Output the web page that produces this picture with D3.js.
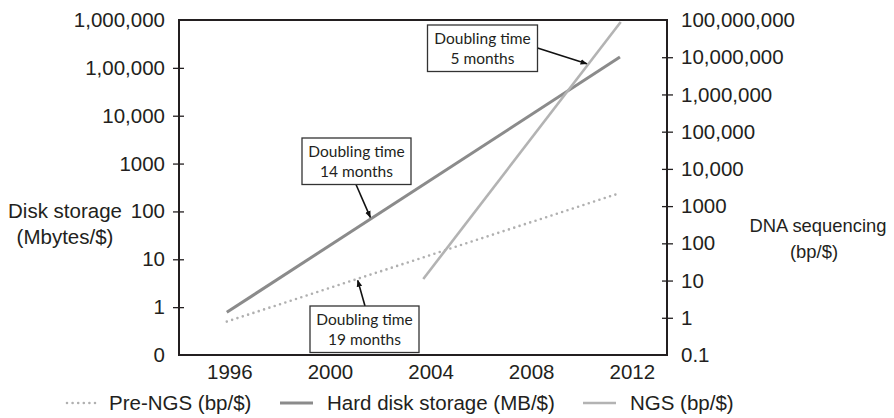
<!DOCTYPE html>
<html>
<head>
<meta charset="utf-8">
<script src="https://cdn.jsdelivr.net/npm/d3@7"></script>
<style>
  html, body { margin: 0; padding: 0; background: #fff; }
  svg { display: block; }
  text { font-family: "Liberation Sans", Arial, Helvetica, sans-serif; fill: #231f20; }
  .ann text { font-family: Lato, "Open Sans", sans-serif; }
</style>
</head>
<body>
<svg id="chart" width="894" height="418"></svg>
<script>
// ---------------- data ----------------
const xTickYears = [1996, 2000, 2004, 2008, 2012];
const leftTickValues = [0.1, 1, 10, 100, 1000, 10000, 100000, 1000000];
const leftTickLabels = ["0", "1", "10", "100", "1000", "10,000", "1,00,000", "1,000,000"];
const rightTickValues = [0.1, 1, 10, 100, 1000, 1e4, 1e5, 1e6, 1e7, 1e8];
const rightTickLabels = ["0.1", "1", "10", "100", "1000", "10,000", "100,000", "1,000,000", "10,000,000", "100,000,000"];

// Hard disk storage (MB/$) - left axis
const diskYears = [1995.9, 2011.53];
const diskValues = [0.78, 168000];
// Pre-NGS (bp/$) - right axis
const preNgsYears = [1995.9, 2011.45];
const preNgsValues = [0.79, 2150];
// NGS (bp/$) - right axis
const ngsYears = [2003.71, 2011.56];
const ngsValues = [11, 88500000];

const seriesNames = ["Pre-NGS (bp/$)", "Hard disk storage (MB/$)", "NGS (bp/$)"];
const annotationLines = [["Doubling time", "14 months"], ["Doubling time", "19 months"], ["Doubling time", "5 months"]];
const annotationTargetYears = [2001.63, 2001.09, 2010.27];

// ---------------- layout ----------------
const svg = d3.select("#chart");
const L = 179, R = 667, T = 20, B = 355;
const x = d3.scaleLinear().domain([1994, 2013.4]).range([L, R]);
const yL = d3.scaleLog().domain([0.1, 1e6]).range([B, T]);
const yR = d3.scaleLog().domain([0.1, 1e8]).range([B, T]);

const fs = "20.5px";
const diskColor = "#8b8b8b", ngsColor = "#b3b3b3", preColor = "#b0b0b0";

// series lines
const line = (ys) => d3.line().x(d => x(d[0])).y(d => ys(d[1]));
const diskData = d3.zip(diskYears, diskValues);
const preData = d3.zip(preNgsYears, preNgsValues);
const ngsData = d3.zip(ngsYears, ngsValues);

svg.append("path").datum(preData).attr("d", line(yR)).attr("fill", "none")
  .attr("stroke", preColor).attr("stroke-width", 2.6).attr("stroke-linecap", "round")
  .attr("stroke-dasharray", "0 5.6");
svg.append("path").datum(diskData).attr("d", line(yL)).attr("fill", "none")
  .attr("stroke", diskColor).attr("stroke-width", 3);
svg.append("path").datum(ngsData).attr("d", line(yR)).attr("fill", "none")
  .attr("stroke", ngsColor).attr("stroke-width", 2.6);

// frame
svg.append("rect").attr("x", L).attr("y", T).attr("width", R - L).attr("height", B - T)
  .attr("fill", "none").attr("stroke", "#231f20").attr("stroke-width", 2);

// left axis
const gL = svg.append("g").attr("transform", `translate(${L},0)`)
  .call(d3.axisLeft(yL).tickValues(leftTickValues)
    .tickFormat((d, i) => leftTickLabels[i]).tickSizeInner(6).tickSizeOuter(0).tickPadding(8));
gL.select(".domain").remove();
gL.selectAll(".tick line").attr("x1", 5).attr("stroke", "#231f20").attr("stroke-width", 1.3)
  .attr("display", (d, i) => (i === 0 || i === leftTickValues.length - 1) ? "none" : null);
gL.selectAll(".tick text").style("font-size", fs).attr("fill", "#231f20");

// right axis
const gR = svg.append("g").attr("transform", `translate(${R},0)`)
  .call(d3.axisRight(yR).tickValues(rightTickValues)
    .tickFormat((d, i) => rightTickLabels[i]).tickSizeInner(6).tickSizeOuter(0).tickPadding(8));
gR.select(".domain").remove();
gR.selectAll(".tick line").attr("x1", -5).attr("stroke", "#231f20").attr("stroke-width", 1.3)
  .attr("display", (d, i) => (i === 0 || i === rightTickValues.length - 1) ? "none" : null);
gR.selectAll(".tick text").style("font-size", fs).attr("fill", "#231f20");

// bottom axis
const gB = svg.append("g").attr("transform", `translate(0,${B})`)
  .call(d3.axisBottom(x).tickValues(xTickYears).tickFormat(d3.format("d")).tickSize(0).tickPadding(9));
gB.select(".domain").remove();
gB.selectAll(".tick text").style("font-size", fs).attr("fill", "#231f20");

// axis titles
const t1 = svg.append("text").attr("x", 65).attr("y", 218).attr("text-anchor", "middle").style("font-size", fs);
t1.append("tspan").attr("x", 65).text("Disk storage");
t1.append("tspan").attr("x", 65).attr("dy", 26).text("(Mbytes/$)");
const t2 = svg.append("text").attr("x", 818).attr("y", 232).attr("text-anchor", "middle").style("font-size", "18.4px");
t2.append("tspan").attr("x", 818).text("DNA sequencing");
t2.append("tspan").attr("x", 814).attr("dy", 26).text("(bp/$)");

// annotations
svg.append("defs").append("marker").attr("id", "arr").attr("viewBox", "0 0 10 10")
  .attr("refX", 9).attr("refY", 5).attr("markerWidth", 7).attr("markerHeight", 7)
  .attr("markerUnits", "userSpaceOnUse").attr("orient", "auto")
  .append("path").attr("d", "M0,1 L10,5 L0,9 Z").attr("fill", "#111");

function interpLog(data, yr) {
  const [a, b] = data;
  const t = (yr - a[0]) / (b[0] - a[0]);
  return Math.pow(10, Math.log10(a[1]) + t * (Math.log10(b[1]) - Math.log10(a[1])));
}
const tipFromSeries = [
  (yr) => [x(yr), yL(interpLog(diskData, yr))],
  (yr) => [x(yr), yR(interpLog(preData, yr))],
  (yr) => [x(yr), yR(interpLog(ngsData, yr))]
];
// box layout (pixel): [x0, y0, w, h, arrow start x, arrow start y]
const boxes = [
  [302, 138, 109, 46.5, 356, 184.5],
  [310, 306, 109, 46.5, 365, 306],
  [427.5, 25, 110, 46.5, 537.5, 48]
];
const ann = svg.append("g").attr("class", "ann");
boxes.forEach((b, i) => {
  const g = ann.append("g");
  const tip = tipFromSeries[i](annotationTargetYears[i]);
  const dx = tip[0] - b[4], dy = tip[1] - b[5];
  const len = Math.hypot(dx, dy);
  const ex = tip[0] - dx / len * 1.5, ey = tip[1] - dy / len * 1.5;
  g.append("line").attr("x1", b[4]).attr("y1", b[5]).attr("x2", ex).attr("y2", ey)
    .attr("stroke", "#111").attr("stroke-width", 1.6).attr("marker-end", "url(#arr)");
  g.append("rect").attr("x", b[0]).attr("y", b[1]).attr("width", b[2]).attr("height", b[3])
    .attr("fill", "#fff").attr("stroke", "#333").attr("stroke-width", 1.3);
  annotationLines[i].forEach((s, j) => {
    g.append("text").attr("x", b[0] + b[2] / 2).attr("y", b[1] + 19 + j * 19.5)
      .attr("text-anchor", "middle").style("font-size", "15.5px").attr("fill", "#2a2a2a").text(s);
  });
});

// legend
const legendItems = [
  { sx: 67, ex: 97, tx: 109, color: preColor, dash: "0 5.6", cap: "round", w: 2.6 },
  { sx: 280, ex: 313, tx: 327, color: diskColor, dash: null, cap: "butt", w: 3 },
  { sx: 583, ex: 616, tx: 630, color: ngsColor, dash: null, cap: "butt", w: 2.6 }
];
const lg = svg.append("g");
legendItems.forEach((it, i) => {
  lg.append("line").attr("x1", it.sx).attr("x2", it.ex).attr("y1", 403).attr("y2", 403)
    .attr("stroke", it.color).attr("stroke-width", it.w).attr("stroke-linecap", it.cap)
    .attr("stroke-dasharray", it.dash);
  lg.append("text").attr("x", it.tx).attr("y", 410).style("font-size", fs).text(seriesNames[i]);
});
</script>
</body>
</html>
